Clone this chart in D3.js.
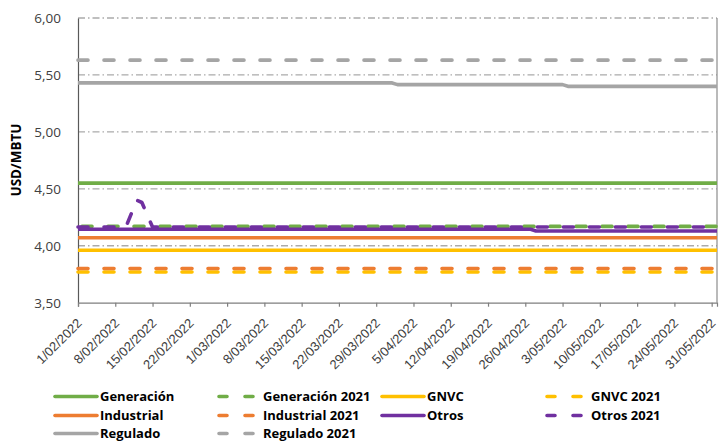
<!DOCTYPE html>
<html>
<head>
<meta charset="utf-8">
<script src="https://cdn.jsdelivr.net/npm/d3@7"></script>
<style>
  html, body { margin: 0; padding: 0; background: #fff; }
  svg { display: block; font-family: "Open Sans", "Noto Sans", sans-serif; }
</style>
</head>
<body>
<svg id="chart" width="720" height="441"></svg>
<script>
// Gas prices by sector, Feb–May 2022 vs 2021 reference (USD/MBTU)
const seriesNames = [
  "Generación", "Generación 2021", "GNVC", "GNVC 2021",
  "Industrial", "Industrial 2021", "Otros", "Otros 2021",
  "Regulado", "Regulado 2021"
];

// [date, value] breakpoints for each series
const generacion     = [["1/02/2022", 4.55], ["1/06/2022", 4.55]];
const generacion2021 = [["1/02/2022", 4.17], ["1/06/2022", 4.17]];
const gnvc           = [["1/02/2022", 3.96], ["1/06/2022", 3.96]];
const gnvc2021       = [["1/02/2022", 3.77], ["1/06/2022", 3.77]];
const industrial     = [["1/02/2022", 4.07], ["1/06/2022", 4.07]];
const industrial2021 = [["1/02/2022", 3.80], ["1/06/2022", 3.80]];
const otros          = [["1/02/2022", 4.145], ["27/04/2022", 4.145], ["28/04/2022", 4.13], ["1/06/2022", 4.13]];
const otros2021      = [["1/02/2022", 4.165], ["10/02/2022", 4.165], ["11/02/2022", 4.28], ["12/02/2022", 4.40],
                        ["13/02/2022", 4.38], ["14/02/2022", 4.27], ["15/02/2022", 4.165], ["1/06/2022", 4.165]];
const regulado       = [["1/02/2022", 5.43], ["1/04/2022", 5.43], ["2/04/2022", 5.415],
                        ["3/05/2022", 5.415], ["4/05/2022", 5.40], ["1/06/2022", 5.40]];
const regulado2021   = [["1/02/2022", 5.63], ["1/06/2022", 5.63]];

const seriesData = [generacion, generacion2021, gnvc, gnvc2021, industrial,
                    industrial2021, otros, otros2021, regulado, regulado2021];

const yTicks = [3.5, 4.0, 4.5, 5.0, 5.5, 6.0];
const gridValues = [4.0, 4.5, 5.0, 5.5, 6.0];
const xStart = "1/02/2022", xEnd = "1/06/2022", xLastTick = "31/05/2022";

// styling
const colors = ["#70AD47", "#70AD47", "#FFC000", "#FFC000", "#ED7D31",
                "#ED7D31", "#7030A0", "#7030A0", "#A5A5A5", "#A5A5A5"];
const dashed = [false, true, false, true, false, true, false, true, false, true];
const dashOffsets = [0, -4, 0, 0, 0, 0, 0, 0, 0, 0];

const parse = d3.timeParse("%d/%m/%Y");
const fmtTick = d => `${d.getDate()}/${String(d.getMonth() + 1).padStart(2, "0")}/${d.getFullYear()}`;
const fmtY = d3.formatLocale({ decimal: ",", thousands: ".", grouping: [3], currency: ["", ""] }).format(".2f");

const svg = d3.select("#chart");
const plot = { left: 78, right: 717, top: 18, bottom: 302.7 };

const x = d3.scaleTime().domain([parse(xStart), parse(xEnd)]).range([plot.left, plot.right]);
const y = d3.scaleLinear().domain([3.5, 6]).range([plot.bottom, plot.top]);

// gridlines (dash-dot)
svg.append("g").selectAll("line").data(gridValues).join("line")
  .attr("x1", plot.left).attr("x2", plot.right)
  .attr("y1", d => y(d)).attr("y2", d => y(d))
  .attr("stroke", "#ABABAB").attr("stroke-width", 1.3)
  .attr("stroke-dasharray", "7,3,1.5,3");

// right frame line
svg.append("line")
  .attr("x1", plot.right).attr("x2", plot.right)
  .attr("y1", plot.top).attr("y2", plot.bottom)
  .attr("stroke", "#8C8C8C").attr("stroke-width", 1.2);

// y axis
const yAxis = d3.axisLeft(y).tickValues(yTicks).tickSize(0).tickPadding(17).tickFormat(fmtY);
const gy = svg.append("g").attr("transform", `translate(${plot.left},0)`).call(yAxis);
gy.select(".domain").attr("stroke", "#595959").attr("stroke-width", 1.2);
gy.selectAll("text").attr("font-size", 13.5).attr("fill", "#404040")
  .attr("font-family", "'Open Sans', sans-serif");

// x axis: weekly ticks
const xTicks = d3.timeDay.range(parse(xStart), d3.timeDay.offset(parse(xLastTick), 1), 7);
const xAxis = d3.axisBottom(x).tickValues(xTicks).tickSize(4).tickFormat(fmtTick);
const gx = svg.append("g").attr("transform", `translate(0,${plot.bottom})`).call(xAxis);
gx.select(".domain").attr("stroke", "#7F7F7F").attr("stroke-width", 1.2);
gx.selectAll(".tick line").attr("stroke", "#7F7F7F").attr("stroke-width", 1.2);
gx.selectAll("text")
  .attr("x", 0).attr("y", 0)
  .attr("font-size", 13).attr("fill", "#404040")
  .attr("text-anchor", "end")
  .attr("transform", "translate(1,18) rotate(-45)")
  .attr("dy", "0.35em");

// y axis title
svg.append("text")
  .attr("transform", `translate(21,160) rotate(-90)`)
  .attr("text-anchor", "middle")
  .attr("font-size", 13.5).attr("font-weight", "bold").attr("fill", "#000")
  .text("USD/MBTU");

// series lines
const line = d3.line().x(d => x(parse(d[0]))).y(d => y(d[1]));
const dashPattern = "10,16";
svg.append("g").selectAll("path").data(seriesData).join("path")
  .attr("d", d => line(d))
  .attr("fill", "none")
  .attr("stroke", (d, i) => colors[i])
  .attr("stroke-width", 3.6)
  .attr("stroke-linecap", (d, i) => dashed[i] ? "round" : "butt")
  .attr("stroke-linejoin", "round")
  .attr("stroke-dasharray", (d, i) => dashed[i] ? dashPattern : null)
  .attr("stroke-dashoffset", (d, i) => dashOffsets[i]);

// legend: 4 columns, row-major
const legendCols = [55, 217, 382, 545];
const legendRows = [396.5, 415.5, 433.5];
const lg = svg.append("g").selectAll("g").data(seriesNames).join("g")
  .attr("transform", (d, i) => `translate(${legendCols[i % 4]},${legendRows[Math.floor(i / 4)]})`);
lg.append("line")
  .attr("x1", (d, i) => dashed[i] ? 2 : 0).attr("x2", 42)
  .attr("y1", 0).attr("y2", 0)
  .attr("stroke", (d, i) => colors[i])
  .attr("stroke-width", 3.6)
  .attr("stroke-linecap", "round")
  .attr("stroke-dasharray", (d, i) => dashed[i] ? "8,18" : null);
lg.append("text")
  .attr("x", (d, i) => dashed[i] ? 46 : 45)
  .attr("y", 0).attr("dy", "0.36em")
  .attr("font-size", 13).attr("font-weight", "bold").attr("fill", "#000")
  .text(d => d);
</script>
</body>
</html>
